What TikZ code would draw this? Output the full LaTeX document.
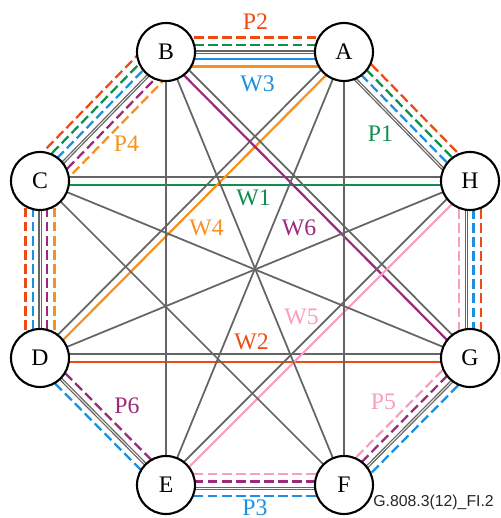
\documentclass[tikz,border=0pt]{standalone}
\usepackage{fontspec}
\setmainfont{Liberation Serif}
\newfontfamily\figfont{Liberation Sans}
\usetikzlibrary{calc,backgrounds}
\definecolor{lnkred}{HTML}{EE4B14}
\definecolor{lnkgrn}{HTML}{0E8F4E}
\definecolor{lnkblu}{HTML}{1B90E0}
\definecolor{lnkorg}{HTML}{F7901E}
\definecolor{lnkpur}{HTML}{9B2A7A}
\definecolor{lnkpnk}{HTML}{F79EC2}
\definecolor{fib}{HTML}{656565}
\tikzset{
  nd/.style={draw, circle, line width=1.2pt, fill=white, minimum size=11.6mm, inner sep=0pt},
  fibre/.style={draw=fib, line width=0.75pt, double=white, double distance=0.45pt},
  chord/.style={draw=fib, line width=1pt},
  wk/.style={line width=1.25pt},
  pr/.style={line width=1.3pt, dash pattern=on 5.5pt off 2.5pt},
  wR/.style={wk, draw=lnkred}, wG/.style={wk, draw=lnkgrn}, wB/.style={wk, draw=lnkblu},
  wO/.style={wk, draw=lnkorg}, wP/.style={wk, draw=lnkpur}, wK/.style={wk, draw=lnkpnk},
  pR/.style={pr, draw=lnkred}, pG/.style={pr, draw=lnkgrn}, pB/.style={pr, draw=lnkblu},
  pO/.style={pr, draw=lnkorg}, pP/.style={pr, draw=lnkpur}, pK/.style={pr, draw=lnkpnk}}
\def\dd{0.145cm}

\begin{document}
\begin{tikzpicture}[font=\fontsize{13.5}{16}\selectfont]
\useasboundingbox (0,0) rectangle (10.02,10.36);
\node[nd] (B) at (3.32,9.32) {B};
\node[nd] (A) at (6.88,9.32) {A};
\node[nd] (H) at (9.40,6.74) {H};
\node[nd] (G) at (9.40,3.20) {G};
\node[nd] (F) at (6.88,0.66) {F};
\node[nd] (E) at (3.32,0.66) {E};
\node[nd] (D) at (0.80,3.20) {D};
\node[nd] (C) at (0.80,6.74) {C};
\begin{pgfonlayer}{background}
% ring links, outside to inside
\foreach \u/\v/\o/\s in {
    B/A/2/pR, B/A/1/pG, B/A/0/fibre, B/A/-1/wB, B/A/-2/wO,
    A/H/1.5/pR, A/H/0.5/pG, A/H/-0.5/pB, A/H/-1.5/fibre,
    H/G/1.5/pR, H/G/0.5/pB, H/G/-0.5/fibre, H/G/-1.5/pK,
    G/F/1.5/pB, G/F/0.5/fibre, G/F/-0.5/pP, G/F/-1.5/pK,
    F/E/1.5/pB, F/E/0.5/fibre, F/E/-0.5/pP, F/E/-1.5/pK,
    E/D/1/pB, E/D/0/fibre, E/D/-1/pP,
    D/C/2/pR, D/C/1/pB, D/C/0/fibre, D/C/-1/pP, D/C/-2/pO,
    C/B/2.5/pR, C/B/1.5/pG, C/B/0.5/pB, C/B/-0.5/fibre, C/B/-1.5/pP, C/B/-2.5/pO}
  \draw[\s] ($(\u.center)!\o*\dd!90:(\v.center)$) -- ($(\v.center)!\o*\dd!-90:(\u.center)$);
% mesh links
\foreach \u/\v/\o/\s in {
    C/H/0.5/chord, C/H/-0.5/wG, D/G/0.5/chord, D/G/-0.5/wR,
    D/A/0.5/chord, D/A/-0.5/wO, B/G/0.5/chord, B/G/-0.5/wP,
    E/H/0.5/chord, E/H/-0.5/wK,
    B/E/0/chord, A/F/0/chord, A/E/0/chord, B/F/0/chord,
    C/G/0/chord, D/H/0/chord, C/F/0/chord}
  \draw[\s] ($(\u.center)!\o*\dd!90:(\v.center)$) -- ($(\v.center)!\o*\dd!-90:(\u.center)$);
\end{pgfonlayer}
\node[text=lnkred] (p2) at (5.11,9.92) {P2};
\node[text=lnkblu] (w3) at (5.15,8.69) {W3};
\node[text=lnkgrn] (p1) at (7.61,7.69) {P1};
\node[text=lnkorg] (p4) at (2.53,7.48) {P4};
\node[text=lnkgrn] (w1) at (5.07,6.40) {W1};
\node[text=lnkorg] (w4) at (4.13,5.80) {W4};
\node[text=lnkpur] (w6) at (5.98,5.80) {W6};
\node[text=lnkpnk] (w5) at (6.03,4.02) {W5};
\node[text=lnkred] (w2) at (5.03,3.53) {W2};
\node[text=lnkpur] (p6) at (2.54,2.24) {P6};
\node[text=lnkpnk] (p5) at (7.67,2.33) {P5};
\node[text=lnkblu] (p3) at (5.10,0.21) {P3};
\node[anchor=east, font=\figfont\fontsize{9}{10}\selectfont, text=black!85] (fig) at (10.0,0.32) {G.808.3(12)\_FI.2};
\end{tikzpicture}
\end{document}
